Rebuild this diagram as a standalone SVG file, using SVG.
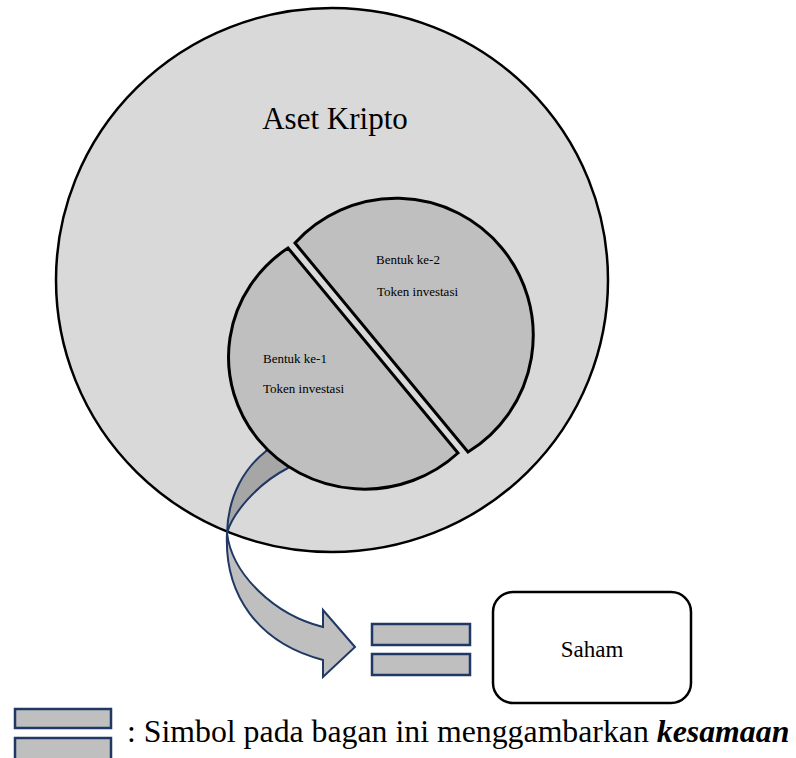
<svg xmlns="http://www.w3.org/2000/svg" width="796" height="758" viewBox="0 0 796 758">
  <style>
    text { font-family: "Liberation Serif", "DejaVu Serif", "Noto Serif", serif; fill: #000; }
    .ring { fill: #d9d9d9; stroke: #000; stroke-width: 2.5; }
    .piece { fill: #bfbfbf; stroke: #000; stroke-width: 3; stroke-linejoin: miter; }
    .ribbon { stroke: #1f3864; stroke-width: 2; stroke-linejoin: miter; }
    .bar { fill: #bfbfbf; stroke: #1f3864; stroke-width: 2.5; }
    .box { fill: #fff; stroke: #000; stroke-width: 2.5; }
  </style>

  <!-- outer set -->
  <g id="aset-kripto">
    <ellipse class="ring" cx="332" cy="280" rx="276" ry="272"/>
    <text x="335" y="129" font-size="31" text-anchor="middle">Aset Kripto</text>
  </g>

  <!-- curved arrow from the inner set to the equality sign -->
  <g id="connectors">
    <path class="ribbon" fill="#a6a6a6" d="M 270,447 L 265,452 C 245,468 228,495 227,533 C 232,515 255,485 288,468 L 294,463 Z"/>
    <path class="ribbon" fill="#bfbfbf" d="M 227,533 C 224,595 258,643 323,660 L 323,677 L 355,647 L 323,610 L 323,627 C 275,615 232,575 227,533 Z"/>
  </g>

  <!-- first form: lower-left segment -->
  <g id="bentuk-1">
    <path class="piece" d="M 458,453 L 288,248 A 136 132 0 1 0 458,453 Z"/>
    <text x="263" y="363" font-size="13">Bentuk ke-1</text>
    <text x="263" y="393" font-size="13">Token investasi</text>
  </g>

  <!-- second form: upper-right segment -->
  <g id="bentuk-2">
    <path class="piece" d="M 295,243 L 468,452 A 137 137 0 1 0 295,243 Z"/>
    <text x="376" y="264" font-size="13">Bentuk ke-2</text>
    <text x="377" y="296" font-size="13">Token investasi</text>
  </g>

  <!-- equality sign -->
  <g id="sama-dengan">
    <rect class="bar" x="372" y="624" width="98" height="21"/>
    <rect class="bar" x="372" y="654" width="98" height="21"/>
  </g>

  <g id="saham">
    <rect class="box" x="493" y="592" width="198" height="111" rx="20" ry="20"/>
    <text x="592" y="657" font-size="23" text-anchor="middle">Saham</text>
  </g>

  <!-- legend -->
  <g id="legenda">
    <rect class="bar" x="15" y="709" width="96" height="19"/>
    <rect class="bar" x="15" y="738" width="96" height="24"/>
    <text x="127" y="742" font-size="31.8">: Simbol pada bagan ini menggambarkan <tspan font-weight="bold" font-style="italic">kesamaan</tspan></text>
  </g>
</svg>
